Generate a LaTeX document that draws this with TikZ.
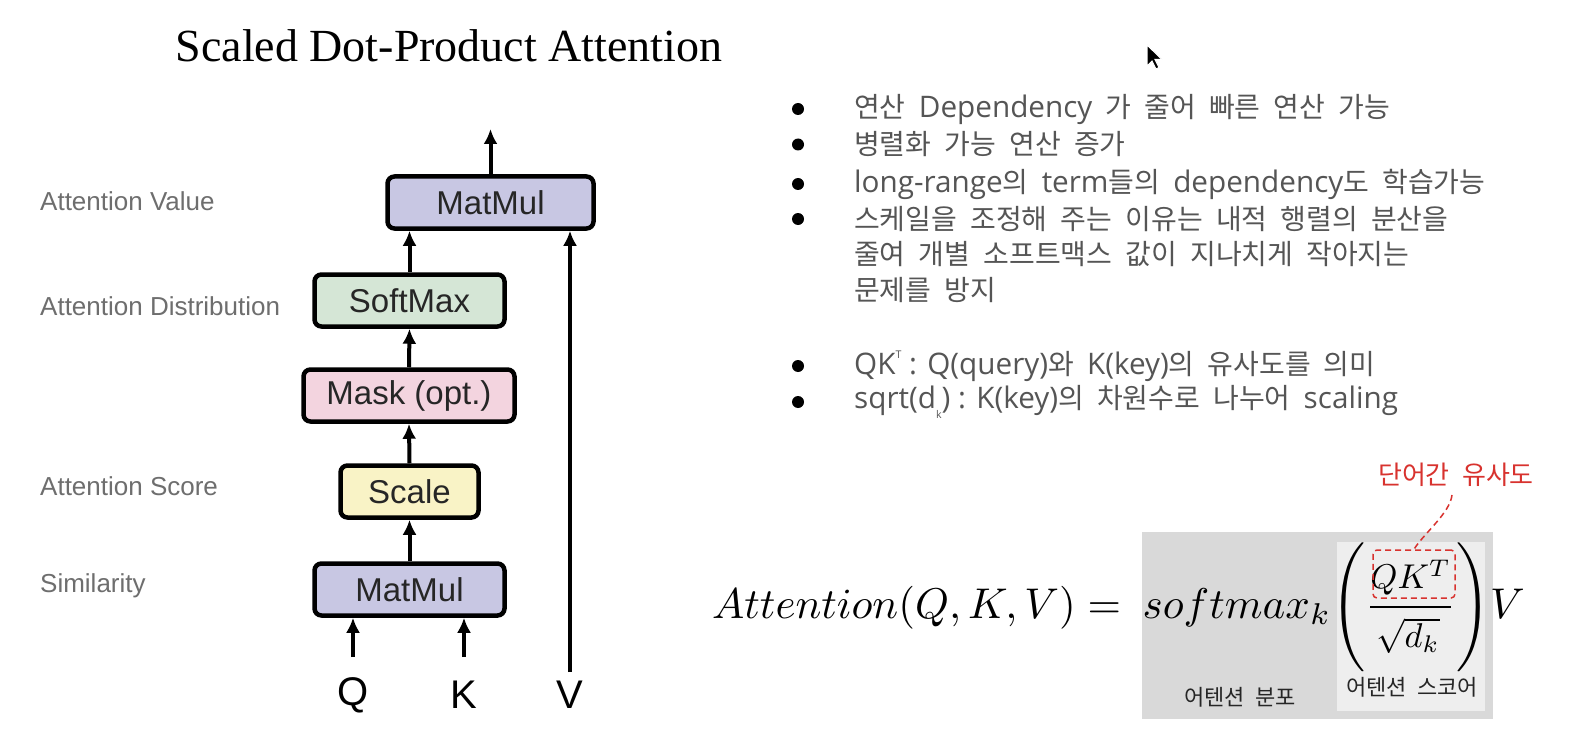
\documentclass[tikz,border=0pt]{standalone}
\usepackage{fontspec}
\usepackage{amsmath}
\usetikzlibrary{arrows.meta}
\newfontfamily\titlef{Liberation Serif}
\newfontfamily\sansf{Liberation Sans}
\newfontfamily\kr[WordSpace=2.1]{Noto Sans CJK KR}
\newfontfamily\lat[Scale=1.06]{Open Sans}
\definecolor{mmc}{HTML}{C8C7E3}
\definecolor{smc}{HTML}{D5E6D6}
\definecolor{mkc}{HTML}{F3D4DF}
\definecolor{scc}{HTML}{F9F3C6}
\definecolor{lblc}{HTML}{6E6E6E}
\definecolor{txtc}{HTML}{555555}
\definecolor{redc}{HTML}{D8322E}
\definecolor{gone}{HTML}{D9D9D9}
\definecolor{gtwo}{HTML}{EEEEEE}
\begin{document}
\begin{tikzpicture}[x=1pt,y=-1pt,
  opbox/.style={draw=black, line width=4.5pt, rounded corners=7pt, minimum height=52pt, inner sep=0pt,
    font=\sansf\fontsize{33}{36}\selectfont, text=black!85},
  arr/.style={line width=4pt, -{Latex[length=15pt,width=14pt]}},
  lbl/.style={anchor=west, inner sep=0pt, text=lblc, font=\sansf\fontsize{26}{30}\selectfont},
  qkv/.style={inner sep=0pt, font=\sansf\fontsize{40}{44}\selectfont},
  bul/.style={circle, fill=black, minimum size=12pt, inner sep=0pt},
  btxt/.style={anchor=west, inner sep=0pt, text=txtc, font=\kr\fontsize{28}{32}\selectfont},
  ann/.style={inner sep=0pt, text=black!85, font=\kr\fontsize{22}{26}\selectfont}]
\useasboundingbox (0,0) rectangle (1584,746);
\fill[white] (0,0) rectangle (1584,746);

% title
\node[font=\titlef\fontsize{46}{50}\selectfont] (title) at (449,45.5) {Scaled Dot-Product Attention};

% left labels
\node[lbl] (lv) at (40,201) {Attention Value};
\node[lbl] (ld) at (40,306) {Attention Distribution};
\node[lbl] (ls) at (40,486) {Attention Score};
\node[lbl] (lsim) at (40,586) {Similarity};

% boxes
\node[opbox, fill=mmc, minimum width=206] (mm2) at (490.5,202.5) {MatMul};
\node[opbox, fill=smc, minimum width=190] (sm) at (409.5,300.5) {SoftMax};
\node[opbox, fill=mkc, minimum width=211] (mk) at (409,395.5) {Mask (opt.)};
\node[opbox, fill=scc, minimum width=138] (sc) at (409.5,491.5) {Scale};
\node[opbox, fill=mmc, minimum width=190] (mm1) at (409.5,589.5) {MatMul};

% inputs
\node[qkv] (q) at (353,695) {Q};
\node[qkv] (k) at (464,695) {K};
\node[qkv] (v) at (570,695) {V};
\coordinate (qs) at (353,657);
\coordinate (ks) at (464,657);
\coordinate (vs) at (570,672);
\coordinate (out) at (490.5,129);

% arrows
\draw[arr] (qs) -- (qs |- mm1.south);
\draw[arr] (ks) -- (ks |- mm1.south);
\draw[arr] (vs) -- (vs |- mm2.south);
\draw[arr] (mm1.north) -- (sc.south);
\draw[arr] (sc.north) -- (mk.south);
\draw[arr] (mk.north) -- (sm.south);
\draw[arr] (sm.north) -- (sm.north |- mm2.south);
\draw[arr] (mm2.north) -- (out);

% bullets
\node[bul] (b1) at (798,109) {};
\node[bul] (b2) at (798,144.5) {};
\node[bul] (b3) at (798,184) {};
\node[bul] (b4) at (798,219) {};
\node[bul] (b7) at (798,366) {};
\node[bul] (b8) at (798,402) {};
\node[btxt] (t1) at (854,109) {연산 {\lat Dependency} 가 줄어 빠른 연산 가능};
\node[btxt] (t2) at (854,144.5) {병렬화 가능 연산 증가};
\node[btxt] (t3) at (854,184) {{\lat long-range}의 {\lat term}들의 {\lat dependency}도 학습가능};
\node[btxt] (t4) at (854,219) {스케일을 조정해 주는 이유는 내적 행렬의 분산을};
\node[btxt] (t5) at (854,254.5) {줄여 개별 소프트맥스 값이 지나치게 작아지는};
\node[btxt] (t6) at (854,290) {문제를 방지};
\node[btxt] (t7) at (854,366) {{\lat QK\raisebox{0.55em}{\fontsize{10}{12}\selectfont T} : Q(query)}와 {\lat K(key)}의 유사도를 의미};
\node[btxt] (t8) at (854,402) {{\lat sqrt(d\raisebox{-0.35em}{\fontsize{10}{12}\selectfont k}) : K(key)}의 차원수로 나누어 {\lat scaling}};

% formula area
\node[fill=gone, minimum width=351, minimum height=187, inner sep=0pt, anchor=north west] (gbox) at (1142,532) {};
\node[fill=gtwo, minimum width=148, minimum height=169, inner sep=0pt, anchor=north west] (ibox) at (1337,542) {};
\node[anchor=base west, inner sep=0pt] (formula) at (712,618)
  {\scalebox{4.3}{$\displaystyle Attention(Q,K,V)=\mkern4mu softmax_k\Biggl(\frac{\scalebox{0.8}{$QK^T$}}{\scalebox{0.8}{$\sqrt{d_k}$}}\Biggr)V$}};
\node[ann] (dist) at (1240,697) {어텐션 분포};
\node[ann] (score) at (1412,687) {어텐션 스코어};
\node[draw=redc, dash pattern=on 6pt off 4pt, line width=1.5pt, rounded corners=4pt, minimum width=82, minimum height=48, inner sep=0pt] (qkbox) at (1414,574) {};
\node[text=redc, inner sep=0pt, font=\kr\fontsize{26}{30}\selectfont] (sim) at (1456,475) {단어간 유사도};
\draw[redc, dash pattern=on 6pt off 4pt, line width=1.5pt] (sim.south) ++(-4,8) .. controls +(-2,18) and +(10,-16) .. (qkbox.north);

% mouse cursor
\filldraw[fill=black, draw=white, line width=1pt] (1147,45) -- ++(0,21) -- ++(5,-5) -- ++(4,8) -- ++(3,-1.5) -- ++(-4,-8) -- ++(7,0) -- cycle;
\end{tikzpicture}
\end{document}
